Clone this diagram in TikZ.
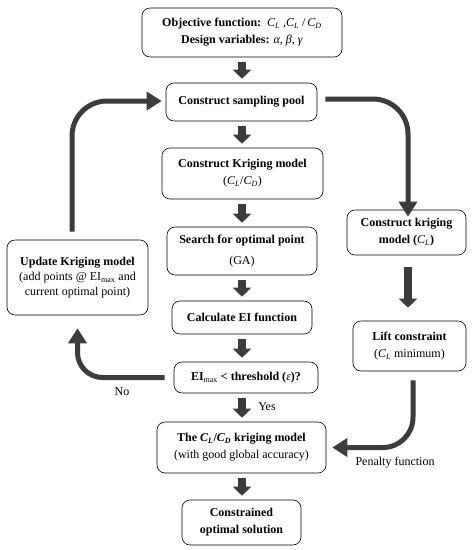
\documentclass[tikz,border=0pt]{standalone}
\usepackage{fontspec}
\setmainfont{Liberation Serif}
\usepackage{xcolor}
\usetikzlibrary{arrows.meta, positioning, calc}

\definecolor{arrowgray}{HTML}{3C3C3C}

\newcommand{\CLsym}{\textit{C\textsubscript{L}}}
\newcommand{\CDsym}{\textit{C\textsubscript{D}}}

\begin{document}
\begin{tikzpicture}[
    x=1pt, y=-1pt,
    box/.style={draw, rounded corners=8pt, align=center, inner sep=1pt,
        line width=0.6pt, font=\fontsize{12}{17}\selectfont},
    blockarrow/.style={draw=arrowgray, line width=8pt,
        -{Triangle[width=18pt, length=9pt]}},
    bigarrow/.style={draw=arrowgray, line width=5pt, rounded corners=35pt,
        -{Triangle[width=18pt, length=15pt]}},
    lbl/.style={font=\fontsize{12}{14}\selectfont}
]
\useasboundingbox (0,0) rectangle (472,550);

% ==========================================
% 1. Main column
% ==========================================
\node[box, minimum width=200, minimum height=49] (obj) at (242, 32.5)
    {\textbf{Objective function:}\ \ \CLsym\ ,\CLsym\ /\,\CDsym \\
     \textbf{Design variables:} \textit{α}, \textit{β}, \textit{γ}};
\node[box, minimum width=151, minimum height=38] (pool) at (241.5, 102)
    {\textbf{Construct sampling pool}};
\node[box, minimum width=161, minimum height=51] (krig) at (242.5, 173.5)
    {\textbf{Construct Kriging model} \\ (\CLsym/\CDsym)};
\node[box, minimum width=150, minimum height=48] (search) at (242, 251)
    {\textbf{Search for optimal point} \\[4pt] (GA)};
\node[box, minimum width=140, minimum height=33] (calc) at (242, 317.5)
    {\textbf{Calculate EI function}};
\node[box, minimum width=144, minimum height=31] (check) at (246, 377.5)
    {\textbf{EI}\textsubscript{max}\textbf{ < threshold (}\textit{ε}\textbf{)?}};
\node[box, minimum width=169, minimum height=51] (model) at (241.5, 447.5)
    {\textbf{The \CLsym/\CDsym\ kriging model} \\ (with good global accuracy)};
\node[box, minimum width=119, minimum height=45] (sol) at (241.5, 522.5)
    {\textbf{Constrained} \\ \textbf{optimal solution}};

% ==========================================
% 2. Side boxes
% ==========================================
\node[box, minimum width=119, minimum height=45] (krigCL) at (406.5, 232.5)
    {\textbf{Construct kriging} \\ \textbf{model (}\CLsym\textbf{)}};
\node[box, minimum width=113, minimum height=50] (lift) at (409.5, 346)
    {\textbf{Lift constraint} \\ (\CLsym\ minimum)};
\node[box, minimum width=141, minimum height=75] (update) at (77.5, 277.5)
    {\textbf{Update Kriging model} \\[-2pt]
     (add points @ EI\textsubscript{max} and \\[-2pt]
     current optimal point)};

% ==========================================
% 3. Straight block arrows
% ==========================================
\foreach \a/\b in {obj/pool, pool/krig, krig/search, search/calc, calc/check, check/model, model/sol}
    \draw[blockarrow, shorten <=5pt, shorten >=4pt] (242,0 |- \a.south) -- (242,0 |- \b.north);
\draw[blockarrow, shorten <=12pt, shorten >=13pt] (408,0 |- krigCL.south) -- (408,0 |- lift.north);

% ==========================================
% 4. Curved arrows
% ==========================================
\draw[bigarrow] ([xshift=8pt, yshift=3pt]pool.east) -| ([xshift=1.5pt, yshift=-7pt]krigCL.north);
\draw[bigarrow, rounded corners=30pt] ([xshift=3.5pt, yshift=-9pt]lift.south) |- ([xshift=6pt]model.east);
\draw[bigarrow, rounded corners=25pt] ([xshift=-9pt]check.west) -| ([yshift=-13pt]update.south);
\draw[bigarrow] ([xshift=-5.5pt, yshift=8pt]update.north) |- ([xshift=-4pt, yshift=1pt]pool.west);

% Labels
\node[lbl] (no) at (122, 392) {No};
\node[lbl] (yes) at (267, 407) {Yes};
\node[lbl] (penalty) at (395, 463) {Penalty function};

\end{tikzpicture}
\end{document}
